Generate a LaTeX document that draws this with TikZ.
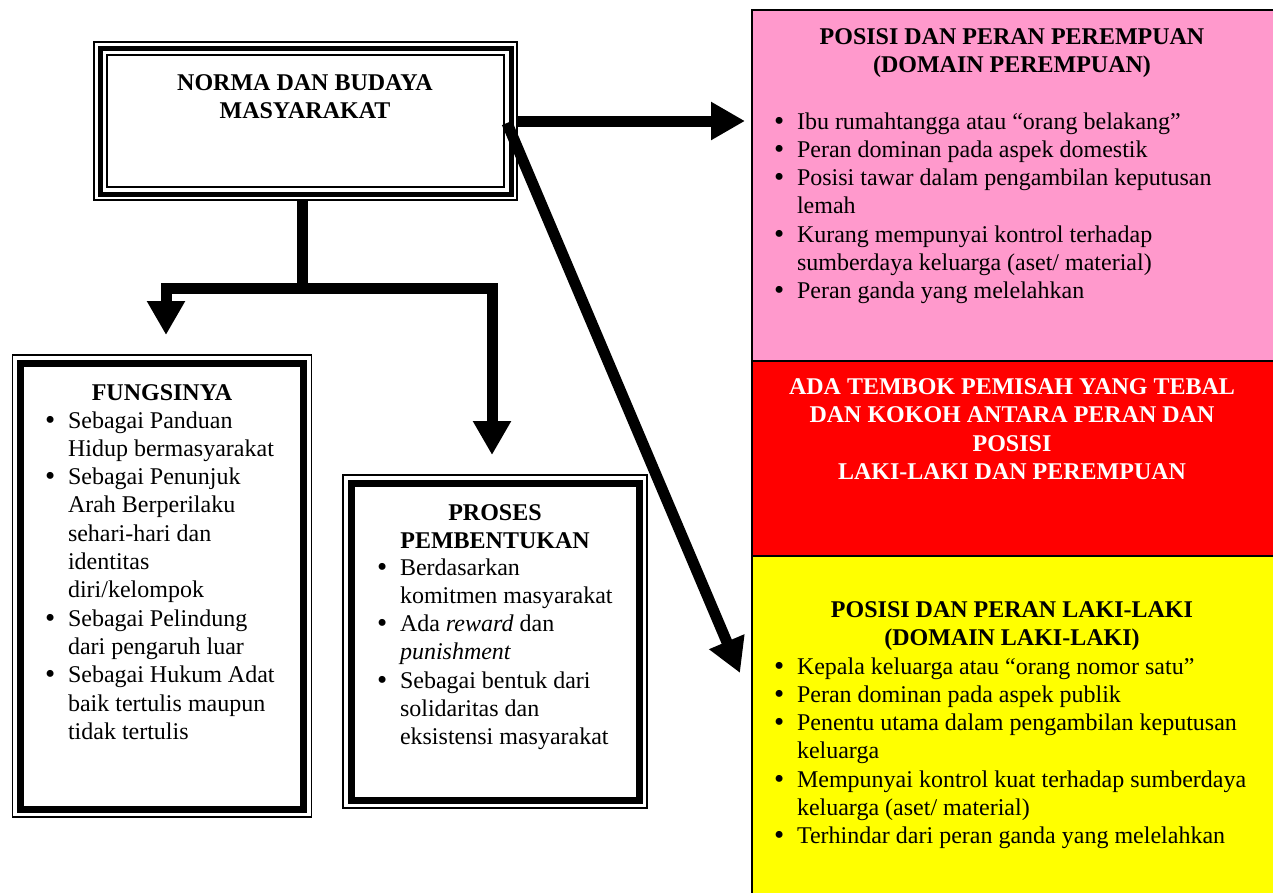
\documentclass[tikz,border=0pt]{standalone}
\usepackage{fontspec}
\setmainfont{Liberation Serif}
\usetikzlibrary{arrows.meta}
\definecolor{rosefill}{HTML}{FF99CC}
\definecolor{redfill}{HTML}{FF0000}
\definecolor{yellowfill}{HTML}{FFFF00}
\newcommand{\bulletmark}{\smash{\raisebox{-1pt}{\fontsize{29}{0}\selectfont\textbullet}}}
\begin{document}
\begin{tikzpicture}[x=1pt,y=-1pt,
  every node/.style={inner sep=0pt,outer sep=0pt,font=\fontsize{24}{28.5}\selectfont},
  area/.style={draw=none,fill=none,rectangle},
  titletext/.style={font=\fontsize{24}{28.5}\selectfont\bfseries},
  bodytext/.style={font=\fontsize{24}{28.3}\selectfont},
  thinline/.style={draw=black,line width=1.7pt},
  thickline/.style={draw=black,line width=7pt},
  panel/.style={draw=black,line width=2.5pt,rectangle},
  conn/.style={line width=11pt,line join=miter,-{Triangle[length=34pt,width=36pt]}}
]
\useasboundingbox (0,0) rectangle (1273,892);

% ---------- right panel ----------
\node[panel,fill=rosefill,minimum width=524pt,minimum height=351pt,anchor=north west] (pink) at (752,10) {};
\node[panel,fill=redfill,minimum width=524pt,minimum height=195pt,anchor=north west] (red) at (752,361) {};
\node[panel,fill=yellowfill,minimum width=524pt,minimum height=340pt,anchor=north west] (yellow) at (752,556) {};

% ---------- NORMA box ----------
\node[area,minimum width=423pt,minimum height=158pt] (norma) at (305.5,121) {};
\draw[thinline] (norma.north west) rectangle (norma.south east);
\draw[draw=black,line width=5pt] ([shift={(6,6)}]norma.north west) rectangle ([shift={(-6,-6)}]norma.south east);
\draw[draw=black,line width=2pt] ([shift={(13,13)}]norma.north west) rectangle ([shift={(-13,-13)}]norma.south east);
\node[titletext,anchor=base] (normatitle) at (305,90) {\begin{tabular}[t]{@{}c@{}}NORMA DAN BUDAYA\\MASYARAKAT\end{tabular}};

% ---------- FUNGSINYA box ----------
\node[area,minimum width=299pt,minimum height=462pt,anchor=north west] (fungsi) at (12.5,355) {};
\draw[thinline] (fungsi.north west) rectangle (fungsi.south east);
\draw[thickline] ([shift={(8,8)}]fungsi.north west) rectangle ([shift={(-8,-8)}]fungsi.south east);
\node[titletext,anchor=base] (fungsititle) at (162,400) {FUNGSINYA};
\node[bodytext,anchor=base west] (fungsilist) at (45,428) {\begin{tabular}[t]{@{}p{23pt}@{}l@{}}
\bulletmark & Sebagai Panduan\\
 & Hidup bermasyarakat\\
\bulletmark & Sebagai Penunjuk\\
 & Arah Berperilaku\\
 & sehari-hari dan\\
 & identitas\\
 & diri/kelompok\\
\bulletmark & Sebagai Pelindung\\
 & dari pengaruh luar\\
\bulletmark & Sebagai Hukum Adat\\
 & baik tertulis maupun\\
 & tidak tertulis
\end{tabular}};

% ---------- PROSES box ----------
\node[area,minimum width=304pt,minimum height=333pt,anchor=north west] (proses) at (343,475) {};
\draw[thinline] (proses.north west) rectangle (proses.south east);
\draw[thickline] ([shift={(8,8)}]proses.north west) rectangle ([shift={(-8,-8)}]proses.south east);
\node[titletext,anchor=base] (prosestitle) at (495,520) {\begin{tabular}[t]{@{}c@{}}PROSES\\PEMBENTUKAN\end{tabular}};
\node[bodytext,anchor=base west] (proseslist) at (377,575) {\begin{tabular}[t]{@{}p{23pt}@{}l@{}}
\bulletmark & Berdasarkan\\
 & komitmen masyarakat\\
\bulletmark & Ada \textit{reward} dan\\
 & \textit{punishment}\\
\bulletmark & Sebagai bentuk dari\\
 & solidaritas dan\\
 & eksistensi masyarakat
\end{tabular}};

% ---------- panel texts ----------
\node[titletext,anchor=base] (pinktitle) at (1012,44) {\begin{tabular}[t]{@{}c@{}}POSISI DAN PERAN PEREMPUAN\\(DOMAIN PEREMPUAN)\end{tabular}};
\node[bodytext,anchor=base west] (pinklist) at (774,129) {\begin{tabular}[t]{@{}p{23pt}@{}l@{}}
\bulletmark & Ibu rumahtangga atau “orang belakang”\\
\bulletmark & Peran dominan pada aspek domestik\\
\bulletmark & Posisi tawar dalam pengambilan keputusan\\
 & lemah\\
\bulletmark & Kurang mempunyai kontrol terhadap\\
 & sumberdaya keluarga (aset/ material)\\
\bulletmark & Peran ganda yang melelahkan
\end{tabular}};

\node[titletext,text=white,anchor=base] (redtext) at (1012,394) {\begin{tabular}[t]{@{}c@{}}ADA TEMBOK PEMISAH YANG TEBAL\\DAN KOKOH ANTARA PERAN DAN\\POSISI\\LAKI-LAKI DAN PEREMPUAN\end{tabular}};

\node[titletext,anchor=base] (yellowtitle) at (1012,617) {\begin{tabular}[t]{@{}c@{}}POSISI DAN PERAN LAKI-LAKI\\(DOMAIN LAKI-LAKI)\end{tabular}};
\node[bodytext,anchor=base west] (yellowlist) at (774,674) {\begin{tabular}[t]{@{}p{23pt}@{}l@{}}
\bulletmark & Kepala keluarga atau “orang nomor satu”\\
\bulletmark & Peran dominan pada aspek publik\\
\bulletmark & Penentu utama dalam pengambilan keputusan\\
 & keluarga\\
\bulletmark & Mempunyai kontrol kuat terhadap sumberdaya\\
 & keluarga (aset/ material)\\
\bulletmark & Terhindar dari peran ganda yang melelahkan
\end{tabular}};

% ---------- connectors ----------
\coordinate (dtip) at (740,673);
\draw[conn,shorten >=7pt] (norma.east) -- (norma.east -| pink.west);
\draw[conn] ([shift={(-10,2)}]norma.east) -- (dtip);
\draw[conn] ([xshift=-3.5pt]norma.south) -- ++(0,88) -| ([shift={(4,-20)}]fungsi.north);
\draw[conn] ([xshift=-3.5pt]norma.south) -- ++(0,88) -| ([shift={(-3,-20)}]proses.north);
\end{tikzpicture}
\end{document}
